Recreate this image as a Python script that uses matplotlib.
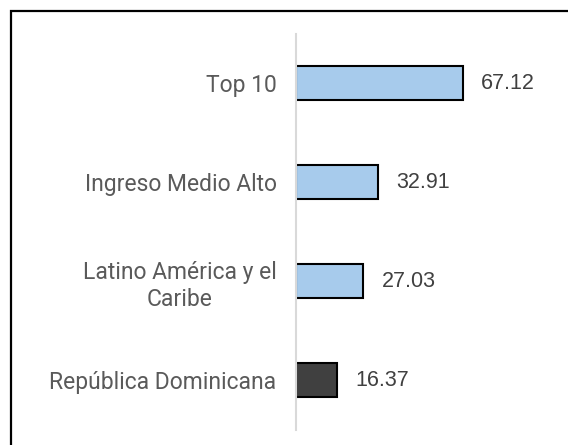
import matplotlib.pyplot as plt
from matplotlib.patches import Rectangle

# datos
categorias = ['República Dominicana', 'Latino América y el\nCaribe', 'Ingreso Medio Alto', 'Top 10']
valores = [16.37, 27.03, 32.91, 67.12]
colores = ['#404040', '#a7cbec', '#a7cbec', '#a7cbec']
etiquetas = ['16.37', '27.03', '32.91', '67.12']

fig = plt.figure(figsize=(5.68, 4.45), dpi=100)
ax = fig.add_axes([296 / 568, 0.0348, 260 / 568, 0.8899])

ax.barh(range(len(categorias)), valores, height=0.35, color=colores,
        edgecolor='black', linewidth=1.5, zorder=2)

for i, v in enumerate(valores):
    ax.text(v + 7.4, i, etiquetas[i], va='center', ha='left',
            fontsize=15.5, color='#404040', family='Liberation Sans')

ax.set_xlim(0, 104.8)
ax.set_ylim(-0.5, len(categorias) - 0.5)
ax.set_yticks(range(len(categorias)))
ax.set_yticklabels(categorias, fontsize=16.5, color='#5a5a5a', family='Roboto',
                   multialignment='center', linespacing=1.25)
ax.tick_params(axis='y', length=0, pad=14)
ax.set_xticks([])

for s in ['top', 'right', 'bottom']:
    ax.spines[s].set_visible(False)
ax.spines['left'].set_color('#d9d9d9')
ax.spines['left'].set_linewidth(1.5)

# marco
fig.patches.append(Rectangle((11 / 568, -0.1), 1.2, 1.1 - 11 / 445,
                             transform=fig.transFigure, fill=False,
                             edgecolor='black', linewidth=1.6))

fig.savefig('out.png', dpi=100)
